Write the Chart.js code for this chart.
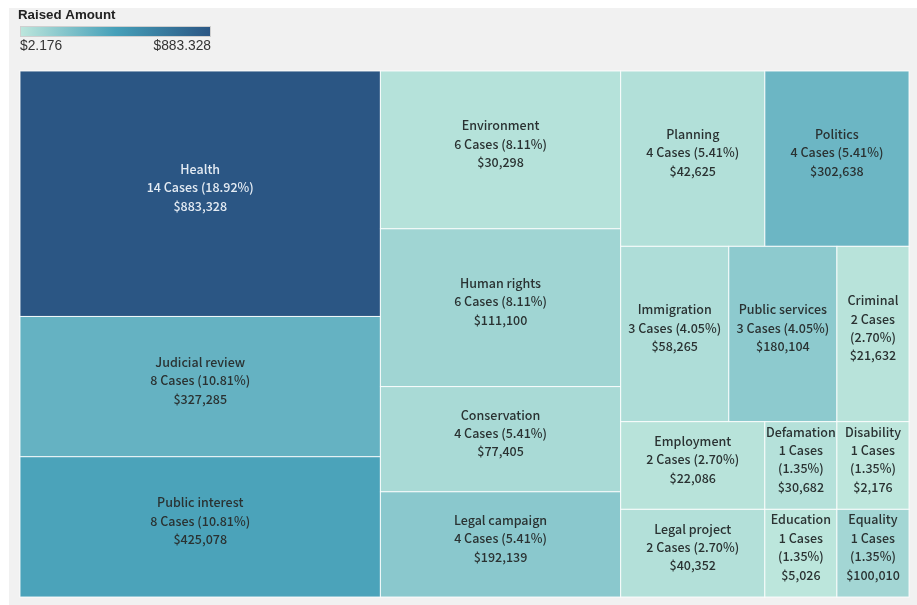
<!DOCTYPE html>
<html>
<head>
<meta charset="utf-8">
<script src="https://cdn.jsdelivr.net/npm/chart.js@4.4.1/dist/chart.umd.min.js"></script>
<style>
  html, body { margin: 0; padding: 0; background: #ffffff; }
  #wrap { width: 917px; height: 605px; position: relative; }
</style>
</head>
<body>
<div id="wrap"><canvas id="c" width="917" height="605"></canvas></div>
<script>
// ---- data ----
const categories = ['Health','Judicial review','Public interest','Environment','Human rights','Conservation','Legal campaign','Planning','Politics','Immigration','Public services','Criminal','Employment','Legal project','Defamation','Disability','Education','Equality'];
const cases = [14, 8, 8, 6, 6, 4, 4, 4, 4, 3, 3, 2, 2, 2, 1, 1, 1, 1];
const raised = [883328, 327285, 425078, 30298, 111100, 77405, 192139, 42625, 302638, 58265, 180104, 21632, 22086, 40352, 30682, 2176, 5026, 100010];
const legendTitle = 'Raised Amount';

// ---- colour scale ----
const colorStops = [[0, [189, 230, 220]], [0.5, [70, 160, 185]], [1, [43, 86, 132]]];
const minRaised = Math.min(...raised), maxRaised = Math.max(...raised);
function colorAt(t) {
  t = Math.max(0, Math.min(1, t));
  for (let i = 1; i < colorStops.length; i++) {
    if (t <= colorStops[i][0]) {
      const [t0, c0] = colorStops[i - 1], [t1, c1] = colorStops[i];
      const f = (t - t0) / (t1 - t0);
      const c = c0.map((v, k) => Math.round(v + (c1[k] - v) * f));
      return `rgb(${c[0]},${c[1]},${c[2]})`;
    }
  }
  const c = colorStops[colorStops.length - 1][1];
  return `rgb(${c[0]},${c[1]},${c[2]})`;
}
function fmtComma(n) { return '$' + String(n).replace(/\B(?=(\d{3})+(?!\d))/g, ','); }
function fmtDot(n) { return '$' + String(n).replace(/\B(?=(\d{3})+(?!\d))/g, '.'); }

// ---- squarified layout (golden ratio) ----
function squarify(nodes, x0, y0, x1, y1) {
  const ratio = (1 + Math.sqrt(5)) / 2;
  let value = nodes.reduce((s, n) => s + n.value, 0);
  let i0 = 0, i1 = 0; const n = nodes.length;
  while (i0 < n) {
    const dx = x1 - x0, dy = y1 - y0;
    let sumValue = nodes[i1++].value;
    let minValue = sumValue, maxValue = sumValue;
    const alpha = Math.max(dy / dx, dx / dy) / (value * ratio);
    let beta = sumValue * sumValue * alpha;
    let minRatio = Math.max(maxValue / beta, beta / minValue);
    for (; i1 < n; ++i1) {
      const nv = nodes[i1].value;
      sumValue += nv;
      if (nv < minValue) minValue = nv;
      if (nv > maxValue) maxValue = nv;
      beta = sumValue * sumValue * alpha;
      const newRatio = Math.max(maxValue / beta, beta / minValue);
      if (newRatio > minRatio) { sumValue -= nv; break; }
      minRatio = newRatio;
    }
    const row = nodes.slice(i0, i1);
    if (dx < dy) {
      const ny = y0 + dy * sumValue / value;
      let x = x0; const k = (x1 - x0) / sumValue;
      row.forEach(nd => { nd.x0 = x; nd.x1 = x += nd.value * k; nd.y0 = y0; nd.y1 = ny; });
      y0 = ny;
    } else {
      const nx = x0 + dx * sumValue / value;
      let y = y0; const k = (y1 - y0) / sumValue;
      row.forEach(nd => { nd.y0 = y; nd.y1 = y += nd.value * k; nd.x0 = x0; nd.x1 = nx; });
      x0 = nx;
    }
    value -= sumValue; i0 = i1;
  }
  return nodes;
}

const totalCases = cases.reduce((a, b) => a + b, 0);
const FONT = '"Noto Sans CJK JP", "Noto Sans", sans-serif';
const CELL_FONT = '500 12.5px ' + FONT;

function wrapText(ctx, text, maxW) {
  const words = text.split(' ');
  const lines = []; let cur = '';
  words.forEach(w => {
    const test = cur ? cur + ' ' + w : w;
    if (ctx.measureText(test).width > maxW && cur) { lines.push(cur); cur = w; }
    else cur = test;
  });
  if (cur) lines.push(cur);
  return lines;
}

const treemapPlugin = {
  id: 'treemapCells',
  beforeDraw(chart) {
    const ctx = chart.ctx;
    ctx.save();
    ctx.fillStyle = '#ffffff';
    ctx.fillRect(0, 0, chart.width, chart.height);
    ctx.fillStyle = '#f1f1f1';
    ctx.fillRect(9, 8, chart.width - 9, chart.height - 8);
    // colour legend
    ctx.fillStyle = '#222';
    ctx.font = 'bold 13.3px "Liberation Sans", Arial, sans-serif';
    ctx.textBaseline = 'middle';
    ctx.textAlign = 'left';
    ctx.fillText(legendTitle, 18, 15);
    const gx = 20, gy = 26, gw = 191, gh = 11;
    const grad = ctx.createLinearGradient(gx, 0, gx + gw, 0);
    colorStops.forEach(([t]) => grad.addColorStop(t, colorAt(t)));
    ctx.fillStyle = grad;
    ctx.fillRect(gx, gy, gw, gh);
    ctx.strokeStyle = '#cfcfcf'; ctx.lineWidth = 1;
    ctx.strokeRect(gx + 0.5, gy + 0.5, gw - 1, gh - 1);
    ctx.fillStyle = '#333';
    ctx.font = '13.8px "Liberation Sans", Arial, sans-serif';
    ctx.fillText(fmtDot(minRaised), 20, 46);
    ctx.textAlign = 'right';
    ctx.fillText(fmtDot(maxRaised), 211, 46);
    ctx.restore();
  },
  afterDatasetsDraw(chart) {
    const ctx = chart.ctx, xs = chart.scales.x, ys = chart.scales.y;
    const area = chart.chartArea;
    const W = area.right - area.left, H = area.bottom - area.top;
    const nodes = categories.map((c, i) => ({ name: c, value: cases[i], raised: raised[i], idx: i }));
    nodes.sort((a, b) => b.value - a.value || a.idx - b.idx);
    squarify(nodes, 0, 0, W, H);
    ctx.save();
    nodes.forEach(nd => {
      const px0 = xs.getPixelForValue(nd.x0 / W * 100), px1 = xs.getPixelForValue(nd.x1 / W * 100);
      const py0 = ys.getPixelForValue(nd.y0 / H * 100), py1 = ys.getPixelForValue(nd.y1 / H * 100);
      const t = (nd.raised - minRaised) / (maxRaised - minRaised);
      ctx.fillStyle = colorAt(t);
      ctx.fillRect(px0, py0, px1 - px0, py1 - py0);
      ctx.strokeStyle = 'rgba(255,255,255,0.85)';
      ctx.lineWidth = 1;
      ctx.strokeRect(px0, py0, px1 - px0, py1 - py0);
      // labels
      const maxW = (px1 - px0) - 6;
      const pct = (nd.value / totalCases * 100).toFixed(2);
      const texts = [nd.name, nd.value + ' Cases (' + pct + '%)', fmtComma(nd.raised)];
      ctx.font = CELL_FONT;
      const lines = [];
      texts.forEach(tx => wrapText(ctx, tx, maxW).forEach(l => lines.push(l)));
      const lh = 18.4;
      const cx = (px0 + px1) / 2, cy = (py0 + py1) / 2 - 6;
      ctx.fillStyle = t > 0.6 ? '#e4ebf3' : '#2a3232';
      ctx.textAlign = 'center'; ctx.textBaseline = 'middle';
      lines.forEach((l, i) => ctx.fillText(l, cx, cy + (i - (lines.length - 1) / 2) * lh));
    });
    ctx.restore();
  }
};

new Chart(document.getElementById('c'), {
  type: 'scatter',
  data: { datasets: [{ data: [], pointRadius: 0 }] },
  options: {
    responsive: false,
    animation: false,
    layout: { padding: { left: 20, top: 71, right: 8, bottom: 8 } },
    plugins: { legend: { display: false }, tooltip: { enabled: false }, title: { display: false } },
    scales: {
      x: { type: 'linear', min: 0, max: 100, display: false },
      y: { type: 'linear', min: 0, max: 100, reverse: true, display: false }
    }
  },
  plugins: [treemapPlugin]
});
</script>
</body>
</html>
